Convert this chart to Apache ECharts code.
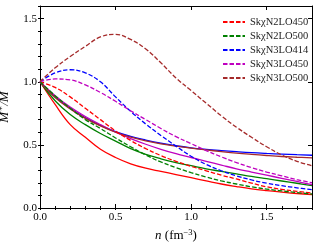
<!DOCTYPE html>
<html><head><meta charset="utf-8">
<script src="https://cdn.jsdelivr.net/npm/echarts@6/dist/echarts.min.js"></script>
<style>html,body{margin:0;padding:0;background:#fff}#c{width:318px;height:246px}</style>
</head><body><div id="c"></div>
<script>
// density grid n (fm^-3)
const nGrid = [0,0.1,0.2,0.3,0.4,0.5,0.6,0.7,0.8,0.9,1.0,1.1,1.2,1.3,1.4,1.5,1.6,1.7,1.8];
const modelNames = ['SkχN2LO450','SkχN2LO500','SkχN3LO414','SkχN3LO450','SkχN3LO500'];
const xTicks = [0,0.5,1.0,1.5];
const yTicks = [0,0.5,1.0,1.5];
// dashed curves
const dN2LO450 = [1.0,0.955,0.88,0.79,0.70,0.61,0.535,0.47,0.415,0.37,0.33,0.295,0.26,0.23,0.197,0.168,0.148,0.132,0.119];
const dN2LO500 = [1.0,0.89,0.79,0.70,0.63,0.555,0.485,0.42,0.365,0.32,0.28,0.245,0.215,0.19,0.168,0.15,0.135,0.122,0.111];
const dN3LO414 = [1.0,1.07,1.095,1.07,1.0,0.88,0.765,0.665,0.575,0.49,0.41,0.345,0.295,0.255,0.222,0.197,0.177,0.16,0.145];
const dN3LO450 = [1.0,1.022,1.015,0.975,0.915,0.845,0.77,0.70,0.63,0.565,0.51,0.455,0.405,0.36,0.32,0.285,0.255,0.225,0.20];
const dN3LO500 = [1.0,1.11,1.2,1.28,1.355,1.375,1.335,1.26,1.15,1.03,0.93,0.83,0.73,0.64,0.56,0.485,0.42,0.37,0.335];
// solid curves
const sN2LO450 = [1.0,0.82,0.66,0.56,0.465,0.40,0.35,0.315,0.29,0.265,0.24,0.215,0.19,0.17,0.152,0.138,0.126,0.115,0.106];
const sN2LO500 = [1.0,0.85,0.74,0.66,0.59,0.53,0.47,0.425,0.39,0.36,0.335,0.31,0.29,0.27,0.25,0.232,0.214,0.196,0.177];
const sN3LO414 = [1.0,0.88,0.79,0.715,0.655,0.605,0.567,0.538,0.513,0.493,0.477,0.465,0.455,0.446,0.438,0.432,0.427,0.422,0.418];
const sN3LO450 = [1.0,0.89,0.80,0.725,0.66,0.60,0.55,0.505,0.465,0.43,0.40,0.37,0.34,0.31,0.285,0.26,0.235,0.21,0.185];
const sN3LO500 = [1.0,0.875,0.785,0.71,0.65,0.60,0.562,0.532,0.508,0.49,0.474,0.46,0.447,0.435,0.425,0.416,0.408,0.402,0.397];

const dashedSets = [dN2LO450,dN2LO500,dN3LO414,dN3LO450,dN3LO500];
const solidSets = [sN2LO450,sN2LO500,sN3LO414,sN3LO450,sN3LO500];
const colors = ['#ff0000','#008000','#0000ff','#bf00bf','#a52a2a'];
const serif = '"Liberation Serif","DejaVu Serif",serif';

const pair = arr => arr.map((v,i)=>[nGrid[i],v]);
const series = [];
solidSets.forEach((arr,i)=>series.push({
  name: modelNames[i]+' ', type:'line', data: pair(arr), smooth:0.4, symbol:'none',
  xAxisIndex:0, yAxisIndex:0, lineStyle:{color:colors[i],width:1.3,type:'solid'}, itemStyle:{color:colors[i]}, z:2
}));
dashedSets.forEach((arr,i)=>series.push({
  name: modelNames[i], type:'line', data: pair(arr), smooth:0.4, symbol:'none',
  xAxisIndex:0, yAxisIndex:0, lineStyle:{color:colors[i],width:1.3,type:[4.5,2]}, itemStyle:{color:colors[i]}, z:3
}));

const fmt = v => { for (const t of xTicks) if (Math.abs(v-t)<1e-6) return t.toFixed(1); return ''; };
const fmtY = v => { for (const t of yTicks) if (Math.abs(v-t)<1e-6) return t.toFixed(1); return ''; };
const line = {show:true,onZero:false,lineStyle:{color:'#000',width:1}};
const noLine = {show:false};
const gridRect = {left:40,right:6,top:6,bottom:38,containLabel:false,outerBoundsMode:'none'};

const chart = echarts.init(document.getElementById('c'),null,{renderer:'canvas'});
chart.setOption({
  animation:false,
  backgroundColor:'#fff',
  grid:[Object.assign({},gridRect),Object.assign({},gridRect)],
  legend:{
    data:modelNames, orient:'vertical', left:217, top:11,
    itemWidth:22, itemHeight:12, itemGap:2,
    itemStyle:{opacity:0},
    textStyle:{fontFamily:serif,fontSize:10.5,color:'#222',lineHeight:12}
  },
  xAxis:[
    {type:'value',gridIndex:0,position:'bottom',min:0,max:1.8,interval:0.5,axisLine:line,
     axisTick:{inside:true,length:4,lineStyle:{color:'#000'}},
     axisLabel:{formatter:fmt,fontFamily:serif,fontSize:11,color:'#000',margin:4,showMaxLabel:false},
     splitLine:{show:false},
     name:'{i|n} (fm{s|−3})',nameLocation:'middle',nameGap:13,
     nameTextStyle:{fontFamily:serif,fontSize:13,color:'#000',lineHeight:16,
       rich:{i:{fontFamily:serif,fontStyle:'italic',fontSize:13,lineHeight:16},s:{fontFamily:serif,fontSize:8.5,verticalAlign:'top',lineHeight:10}}}},
    {type:'value',gridIndex:0,position:'top',min:0,max:1.8,interval:0.5,axisLine:line,
     axisTick:{inside:true,length:4,lineStyle:{color:'#000'}},axisLabel:{show:false},splitLine:{show:false}},
    {type:'value',gridIndex:1,position:'bottom',min:0,max:1.8,interval:0.1,axisLine:noLine,
     axisTick:{inside:true,length:2,lineStyle:{color:'#000'}},axisLabel:{show:false},splitLine:{show:false}},
    {type:'value',gridIndex:1,position:'top',min:0,max:1.8,interval:0.1,axisLine:noLine,
     axisTick:{inside:true,length:2,lineStyle:{color:'#000'}},axisLabel:{show:false},splitLine:{show:false}}
  ],
  yAxis:[
    {type:'value',gridIndex:0,position:'left',min:0,max:1.6,interval:0.5,axisLine:line,
     axisTick:{inside:true,length:4,lineStyle:{color:'#000'}},
     axisLabel:{formatter:fmtY,fontFamily:serif,fontSize:11,color:'#000',margin:3,showMaxLabel:false},
     splitLine:{show:false},
     name:'{i|M}{s|∗}{i|/M}',nameLocation:'middle',nameGap:22,
     nameTextStyle:{fontFamily:serif,fontSize:13,color:'#000',lineHeight:16,
       rich:{i:{fontFamily:serif,fontStyle:'italic',fontSize:13,lineHeight:16},s:{fontFamily:'"DejaVu Serif",serif',fontSize:9,verticalAlign:'top',lineHeight:10}}}},
    {type:'value',gridIndex:0,position:'right',min:0,max:1.6,interval:0.5,axisLine:line,
     axisTick:{inside:true,length:4,lineStyle:{color:'#000'}},axisLabel:{show:false},splitLine:{show:false}},
    {type:'value',gridIndex:1,position:'left',min:0,max:1.6,interval:0.1,axisLine:noLine,
     axisTick:{inside:true,length:2,lineStyle:{color:'#000'}},axisLabel:{show:false},splitLine:{show:false}},
    {type:'value',gridIndex:1,position:'right',min:0,max:1.6,interval:0.1,axisLine:noLine,
     axisTick:{inside:true,length:2,lineStyle:{color:'#000'}},axisLabel:{show:false},splitLine:{show:false}}
  ],
  series:series
});
</script></body></html>
